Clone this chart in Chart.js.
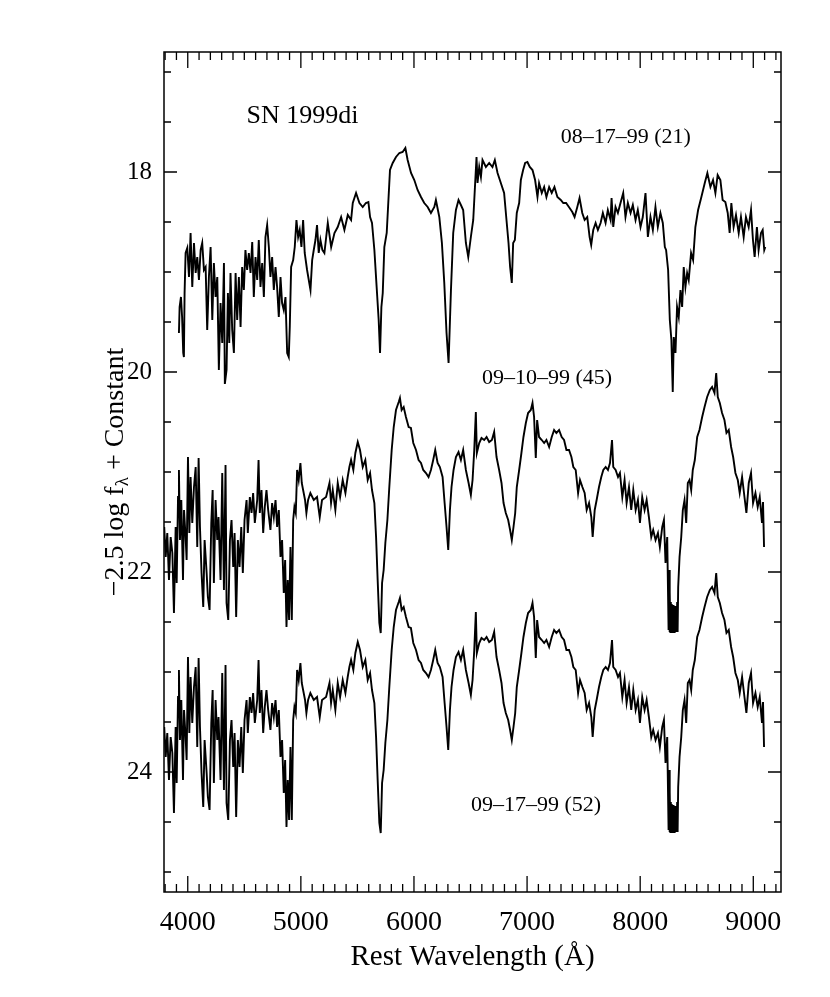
<!DOCTYPE html>
<html>
<head>
<meta charset="utf-8">
<script src="https://cdn.jsdelivr.net/npm/chart.js@4.4.0/dist/chart.umd.min.js"></script>
<style>
  html, body { margin: 0; padding: 0; background: #fff; }
  canvas { display: block; }
</style>
</head>
<body>
<canvas id="spec" width="830" height="997"></canvas>
<script>
// tick labels
const xTickLabels = [4000, 5000, 6000, 7000, 8000, 9000];
const yTickLabels = [18, 20, 22, 24];

// 08-17-99 (21)
const wave1 = [3922,3928,3940,3950,3960,3966,3972,3981,3996,4011,4025,4040,4055,4070,4084,4099,4114,4128,4143,4158,
  4172,4187,4202,4217,4231,4246,4261,4275,4290,4305,4320,4328,4343,4355,4367,4378,4393,4408,4423,4437,
  4452,4467,4481,4496,4510,4525,4540,4555,4570,4584,4599,4614,4628,4643,4658,4673,4687,4702,4717,4731,
  4746,4761,4776,4790,4805,4820,4834,4849,4864,4879,4893,4902,4914,4932,4946,4961,4976,4990,5005,5020,
  5034,5055,5085,5100,5114,5129,5143,5158,5173,5190,5208,5238,5268,5297,5326,5356,5385,5415,5444,5459,
  5488,5518,5547,5575,5597,5612,5629,5650,5670,5688,5700,5712,5724,5738,5759,5771,5788,5812,5841,5871,
  5900,5924,5944,5974,6003,6032,6062,6091,6121,6150,6180,6194,6224,6247,6268,6288,6306,6327,6347,6371,
  6394,6415,6435,6459,6480,6503,6524,6541,6553,6562,6577,6592,6606,6636,6665,6694,6715,6739,6768,6797,
  6818,6836,6850,6865,6877,6892,6909,6930,6945,6965,6983,7003,7024,7048,7071,7092,7106,7130,7151,7171,
  7195,7218,7242,7268,7298,7320,7345,7370,7400,7420,7444,7464,7488,7509,7532,7553,7567,7585,7606,7626,
  7650,7670,7694,7714,7738,7747,7762,7782,7803,7826,7850,7870,7891,7915,7935,7959,7979,8003,8023,8047,
  8068,8091,8112,8135,8156,8179,8200,8218,8229,8247,8262,8276,8288,8297,8312,8326,8341,8356,8371,8385,
  8400,8415,8429,8450,8468,8488,8512,8541,8571,8594,8621,8644,8665,8685,8709,8729,8753,8774,8791,8806,
  8826,8847,8871,8891,8915,8935,8959,8980,8997,9012,9032,9047,9068,9083,9097,9106];
const flux1 = [19.61,19.35,19.25,19.45,19.81,19.85,19.21,18.81,18.76,19.05,18.61,19.15,18.71,19.01,18.85,19.08,18.78,18.71,18.98,18.95,
  19.58,19.05,18.75,19.48,18.91,19.25,19.05,19.98,19.31,19.71,18.91,20.12,19.98,19.21,19.71,19.01,19.58,19.81,19.01,19.48,
  19.05,19.55,18.95,19.18,18.78,18.98,18.81,19.01,18.70,19.25,18.85,19.08,18.68,19.15,18.91,19.25,18.65,18.53,18.75,19.05,
  18.85,19.18,18.95,19.15,19.45,19.05,19.31,19.38,19.25,19.81,19.85,19.55,18.95,18.88,18.75,18.48,18.65,18.58,18.75,18.48,
  18.81,18.98,19.18,18.88,18.78,18.68,18.53,18.81,18.68,18.78,18.81,18.51,18.75,18.61,18.55,18.45,18.58,18.43,18.48,18.31,
  18.21,18.31,18.35,18.31,18.30,18.45,18.51,18.78,19.15,19.48,19.81,19.35,19.21,18.75,18.61,18.35,17.98,17.91,17.85,17.81,
  17.80,17.76,17.88,18.01,18.08,18.18,18.25,18.31,18.35,18.41,18.35,18.28,18.45,18.71,19.11,19.61,19.91,19.18,18.61,18.38,
  18.28,18.33,18.38,18.71,18.85,18.65,18.48,18.11,17.85,18.11,17.95,18.05,17.88,17.95,17.91,17.95,17.88,18.01,18.11,18.21,
  18.48,18.71,18.95,19.11,18.71,18.68,18.41,18.31,18.08,17.98,17.91,17.90,17.95,17.98,18.08,18.25,18.11,18.21,18.15,18.25,
  18.15,18.21,18.15,18.25,18.28,18.31,18.31,18.35,18.40,18.45,18.35,18.26,18.41,18.48,18.45,18.65,18.73,18.58,18.51,18.58,
  18.51,18.41,18.51,18.38,18.48,18.26,18.55,18.35,18.41,18.31,18.21,18.45,18.31,18.41,18.33,18.48,18.38,18.55,18.45,18.21,
  18.65,18.45,18.58,18.35,18.55,18.41,18.51,18.75,18.78,18.98,19.48,19.68,20.20,19.65,19.81,19.35,19.45,19.18,19.35,18.95,
  19.15,19.01,19.08,18.81,18.88,18.55,18.38,18.25,18.11,18.01,18.15,18.08,18.21,18.03,18.08,18.28,18.30,18.41,18.61,18.31,
  18.55,18.43,18.61,18.45,18.65,18.45,18.55,18.38,18.68,18.85,18.55,18.78,18.61,18.58,18.78,18.75];

// 09-10-99 (45) and 09-17-99 (52) share one wavelength grid
const wave2 = [3792,3805,3819,3834,3849,3864,3878,3893,3902,3914,3922,3931,3943,3958,3967,3981,3990,4002,4014,4025,
  4040,4055,4070,4084,4096,4108,4122,4137,4149,4167,4178,4193,4208,4220,4231,4246,4261,4272,4290,4305,
  4320,4334,4343,4358,4373,4387,4402,4414,4428,4443,4458,4473,4487,4502,4520,4531,4549,4564,4578,4593,
  4614,4626,4637,4652,4667,4681,4696,4711,4731,4746,4761,4776,4790,4805,4820,4834,4849,4861,4873,4884,
  4896,4908,4920,4932,4943,4955,4967,4981,4996,5008,5020,5037,5049,5064,5084,5114,5143,5167,5187,5223,
  5253,5267,5282,5305,5326,5347,5370,5394,5414,5429,5444,5464,5482,5503,5523,5547,5570,5591,5612,5629,
  5650,5665,5679,5694,5706,5718,5732,5747,5765,5782,5803,5821,5841,5865,5876,5891,5909,5929,5953,5973,
  5994,6018,6041,6062,6082,6106,6129,6150,6170,6188,6209,6229,6253,6271,6288,6303,6318,6332,6350,6371,
  6394,6415,6435,6459,6483,6503,6518,6533,6547,6556,6577,6597,6621,6642,6665,6689,6709,6730,6753,6774,
  6792,6812,6833,6850,6865,6880,6895,6909,6930,6950,6968,6989,7009,7033,7048,7062,7077,7089,7106,7130,
  7151,7171,7195,7218,7239,7259,7283,7306,7327,7348,7371,7392,7409,7430,7451,7468,7489,7509,7527,7548,
  7568,7580,7598,7615,7636,7656,7674,7695,7715,7733,7751,7762,7783,7804,7821,7842,7862,7880,7901,7921,
  7939,7960,7980,7998,8018,8039,8057,8077,8098,8115,8136,8157,8174,8195,8210,8224,8239,
  8251,8255,8259,8263,8267,8271,8275,8279,8283,8287,8291,8295,8299,8303,8307,8311,8315,8319,8323,8327,8331,8336,
  8348,8363,8377,8392,8407,8421,8436,8451,8465,8483,8504,8524,8548,
  8569,8592,8616,8636,8657,8672,8686,8704,8724,8745,8763,8783,8804,8822,8842,8863,8880,8901,8922,8939,
  8960,8980,8998,9019,9039,9057,9077,9086,9095];
const flux2 = [21.55,21.85,21.61,22.08,21.65,21.81,22.41,21.55,22.11,21.25,20.98,21.68,21.28,22.08,21.38,21.65,21.88,20.85,21.61,21.05,
  21.51,21.15,20.95,21.75,20.86,21.55,22.01,22.35,21.68,22.01,22.25,22.38,21.51,21.18,22.11,21.28,21.68,21.45,22.08,21.01,
  22.18,20.93,22.31,22.48,21.68,21.48,21.95,21.61,22.45,21.68,21.95,21.55,22.01,21.48,21.28,21.61,21.25,21.41,21.21,21.51,
  21.28,20.88,21.41,21.18,21.61,21.35,21.18,21.38,21.58,21.31,21.45,21.28,21.55,21.38,21.85,21.68,22.21,21.88,22.55,22.08,
  22.48,21.75,22.48,21.48,21.35,21.41,20.98,21.08,20.91,21.11,21.18,21.28,21.41,21.28,21.21,21.28,21.25,21.45,21.28,21.25,
  21.11,21.31,21.18,21.38,21.11,21.25,21.08,21.21,21.05,20.95,20.88,20.98,20.81,20.70,20.78,20.95,20.88,21.08,21.01,21.18,
  21.31,21.65,22.08,22.51,22.61,22.11,21.98,21.71,21.48,21.15,20.78,20.55,20.38,20.30,20.26,20.38,20.35,20.45,20.55,20.56,
  20.71,20.78,20.88,20.91,20.98,21.01,21.05,20.98,20.88,20.78,20.91,20.95,21.05,21.31,21.55,21.78,21.38,21.15,20.98,20.85,
  20.80,20.88,20.78,20.98,21.11,21.23,21.08,20.78,20.40,20.81,20.71,20.66,20.68,20.65,20.70,20.68,20.60,20.85,20.98,21.11,
  21.31,21.41,21.48,21.58,21.68,21.55,21.41,21.15,20.98,20.81,20.65,20.51,20.41,20.38,20.31,20.45,20.86,20.48,20.65,20.68,
  20.71,20.68,20.75,20.65,20.58,20.61,20.58,20.65,20.68,20.78,20.78,20.85,20.95,20.98,21.21,21.08,21.15,21.21,21.38,21.31,
  21.45,21.65,21.38,21.28,21.15,21.05,20.98,20.95,20.98,20.91,20.68,20.95,20.98,21.05,21.01,21.25,21.08,21.31,21.15,21.38,
  21.18,21.38,21.28,21.51,21.25,21.38,21.28,21.45,21.65,21.58,21.68,21.61,21.75,21.55,21.48,21.91,21.65,
  22.58,21.98,22.60,22.20,22.60,22.30,22.60,22.32,22.60,22.35,22.60,22.33,22.60,22.36,22.60,22.34,22.60,22.38,22.60,22.30,22.60,22.15,
  21.85,21.65,21.38,21.28,21.51,21.11,21.08,21.18,20.98,20.88,20.65,20.58,20.45,
  20.35,20.25,20.18,20.15,20.21,20.01,20.25,20.31,20.41,20.48,20.61,20.58,20.75,20.85,21.01,21.08,21.21,21.05,21.25,21.41,
  21.11,21.01,21.31,21.21,21.35,21.25,21.51,21.30,21.75];
const flux3 = [23.55,23.85,23.61,24.08,23.65,23.81,24.41,23.55,24.11,23.25,22.98,23.68,23.28,24.08,23.38,23.65,23.88,22.85,23.61,23.05,
  23.51,23.15,22.95,23.75,22.86,23.55,24.01,24.35,23.68,24.01,24.25,24.38,23.51,23.18,24.11,23.28,23.68,23.45,24.08,23.01,
  24.18,22.93,24.31,24.48,23.68,23.48,23.95,23.61,24.45,23.68,23.95,23.55,24.01,23.48,23.28,23.61,23.25,23.41,23.21,23.51,
  23.28,22.88,23.41,23.18,23.61,23.35,23.18,23.38,23.58,23.31,23.45,23.28,23.55,23.38,23.85,23.68,24.21,23.88,24.55,24.08,
  24.48,23.75,24.48,23.48,23.35,23.41,22.98,23.08,22.91,23.11,23.18,23.28,23.41,23.28,23.21,23.28,23.25,23.45,23.28,23.25,
  23.11,23.31,23.18,23.38,23.11,23.25,23.08,23.21,23.05,22.95,22.88,22.98,22.81,22.70,22.78,22.95,22.88,23.08,23.01,23.18,
  23.31,23.65,24.08,24.51,24.61,24.11,23.98,23.71,23.48,23.15,22.78,22.55,22.38,22.30,22.26,22.38,22.35,22.45,22.55,22.56,
  22.71,22.78,22.88,22.91,22.98,23.01,23.05,22.98,22.88,22.78,22.91,22.95,23.05,23.31,23.55,23.78,23.38,23.15,22.98,22.85,
  22.80,22.88,22.78,22.98,23.11,23.23,23.08,22.78,22.40,22.81,22.71,22.66,22.68,22.65,22.70,22.68,22.60,22.85,22.98,23.11,
  23.31,23.41,23.48,23.58,23.68,23.55,23.41,23.15,22.98,22.81,22.65,22.51,22.41,22.38,22.31,22.45,22.86,22.48,22.65,22.68,
  22.71,22.68,22.75,22.65,22.58,22.61,22.58,22.65,22.68,22.78,22.78,22.85,22.95,22.98,23.21,23.08,23.15,23.21,23.38,23.31,
  23.45,23.65,23.38,23.28,23.15,23.05,22.98,22.95,22.98,22.91,22.68,22.95,22.98,23.05,23.01,23.25,23.08,23.31,23.15,23.38,
  23.18,23.38,23.28,23.51,23.25,23.38,23.28,23.45,23.65,23.58,23.68,23.61,23.75,23.55,23.48,23.91,23.65,
  24.58,23.98,24.60,24.20,24.60,24.30,24.60,24.32,24.60,24.35,24.60,24.33,24.60,24.36,24.60,24.34,24.60,24.38,24.60,24.30,24.60,24.15,
  23.85,23.65,23.38,23.28,23.51,23.11,23.08,23.18,22.98,22.88,22.65,22.58,22.45,
  22.35,22.25,22.18,22.15,22.21,22.01,22.25,22.31,22.41,22.48,22.61,22.58,22.75,22.85,23.01,23.08,23.21,23.05,23.25,23.41,
  23.11,23.01,23.31,23.21,23.35,23.25,23.51,23.30,23.75];

// text labels: [text, wavelength, magnitude]
const notes = [
  ["SN 1999di", 5014, 17.44],
  ["08\u201317\u201399 (21)", 7873, 17.65],
  ["09\u201310\u201399 (45)", 7176, 20.06],
  ["09\u201317\u201399 (52)", 7079, 24.33]
];

const serif = "'Liberation Serif', 'Times New Roman', serif";

function pts(w, f) {
  return w.map((v, i) => ({ x: v, y: f[i] }));
}

function lineSet(label, data) {
  return {
    label: label,
    data: data,
    borderColor: "#000",
    borderWidth: 1.9,
    pointRadius: 0,
    fill: false,
    tension: 0
  };
}

const framePlugin = {
  id: "frame",
  afterDraw(chart) {
    const ctx = chart.ctx;
    const a = chart.chartArea;
    const x = chart.scales.x;
    const y = chart.scales.y;
    ctx.save();
    ctx.strokeStyle = "#000";
    ctx.lineWidth = 1.5;
    ctx.strokeRect(a.left, a.top, a.right - a.left, a.bottom - a.top);

    ctx.lineWidth = 1.3;
    ctx.beginPath();
    for (let w = 3800; w <= 9200; w += 100) {
      const px = x.getPixelForValue(w);
      const len = w % 1000 === 0 ? 16 : 8;
      ctx.moveTo(px, a.bottom); ctx.lineTo(px, a.bottom - len);
      ctx.moveTo(px, a.top); ctx.lineTo(px, a.top + len);
    }
    for (let m = 17; m <= 25; m += 0.5) {
      const py = y.getPixelForValue(m);
      const len = m % 2 === 0 ? 13 : 7;
      ctx.moveTo(a.left, py); ctx.lineTo(a.left + len, py);
      ctx.moveTo(a.right, py); ctx.lineTo(a.right - len, py);
    }
    ctx.stroke();

    ctx.fillStyle = "#000";
    ctx.textAlign = "center";
    ctx.textBaseline = "middle";
    notes.forEach((n, i) => {
      ctx.font = (i === 0 ? "26px " : "22px ") + serif;
      ctx.fillText(n[0], x.getPixelForValue(n[1]), y.getPixelForValue(n[2]));
    });

    // y title with subscript lambda
    const parts = [["\u22122.5 log f", 28, 0], ["\u03bb", 19, 7], [" + Constant", 28, 0]];
    let total = 0;
    parts.forEach(p => { ctx.font = p[1] + "px " + serif; total += ctx.measureText(p[0]).width; });
    ctx.translate(116, (a.top + a.bottom) / 2);
    ctx.rotate(-Math.PI / 2);
    ctx.textAlign = "left";
    let cx = -total / 2;
    parts.forEach(p => {
      ctx.font = p[1] + "px " + serif;
      ctx.fillText(p[0], cx, p[2]);
      cx += ctx.measureText(p[0]).width;
    });
    ctx.restore();
  }
};

new Chart(document.getElementById("spec"), {
  type: "line",
  data: {
    datasets: [
      lineSet("08-17-99 (21)", pts(wave1, flux1)),
      lineSet("09-10-99 (45)", pts(wave2, flux2)),
      lineSet("09-17-99 (52)", pts(wave2, flux3))
    ]
  },
  options: {
    responsive: false,
    animation: false,
    devicePixelRatio: 1,
    layout: { padding: { top: 52, right: 49, left: 0, bottom: 0 } },
    plugins: { legend: { display: false }, tooltip: { enabled: false } },
    scales: {
      x: {
        type: "linear",
        min: 3790,
        max: 9245,
        grid: { display: false, drawTicks: false },
        border: { display: false },
        afterBuildTicks: s => { s.ticks = xTickLabels.map(v => ({ value: v })); },
        afterFit: s => { s.height = 105; },
        ticks: { color: "#000", font: { family: serif, size: 28 }, padding: 14, maxRotation: 0, autoSkip: false,
                 callback: v => String(v) },
        title: { display: true, text: "Rest Wavelength (\u00c5)", color: "#000", font: { family: serif, size: 29 }, padding: { bottom: 22, top: 0 } }
      },
      y: {
        type: "linear",
        reverse: true,
        min: 16.8,
        max: 25.2,
        grid: { display: false, drawTicks: false },
        border: { display: false },
        afterBuildTicks: s => { s.ticks = yTickLabels.map(v => ({ value: v })); },
        afterFit: s => { s.width = 164; },
        ticks: { color: "#000", font: { family: serif, size: 25 }, padding: 12, autoSkip: false,
                 callback: v => String(v) }
      }
    }
  },
  plugins: [framePlugin]
});
</script>
</body>
</html>
